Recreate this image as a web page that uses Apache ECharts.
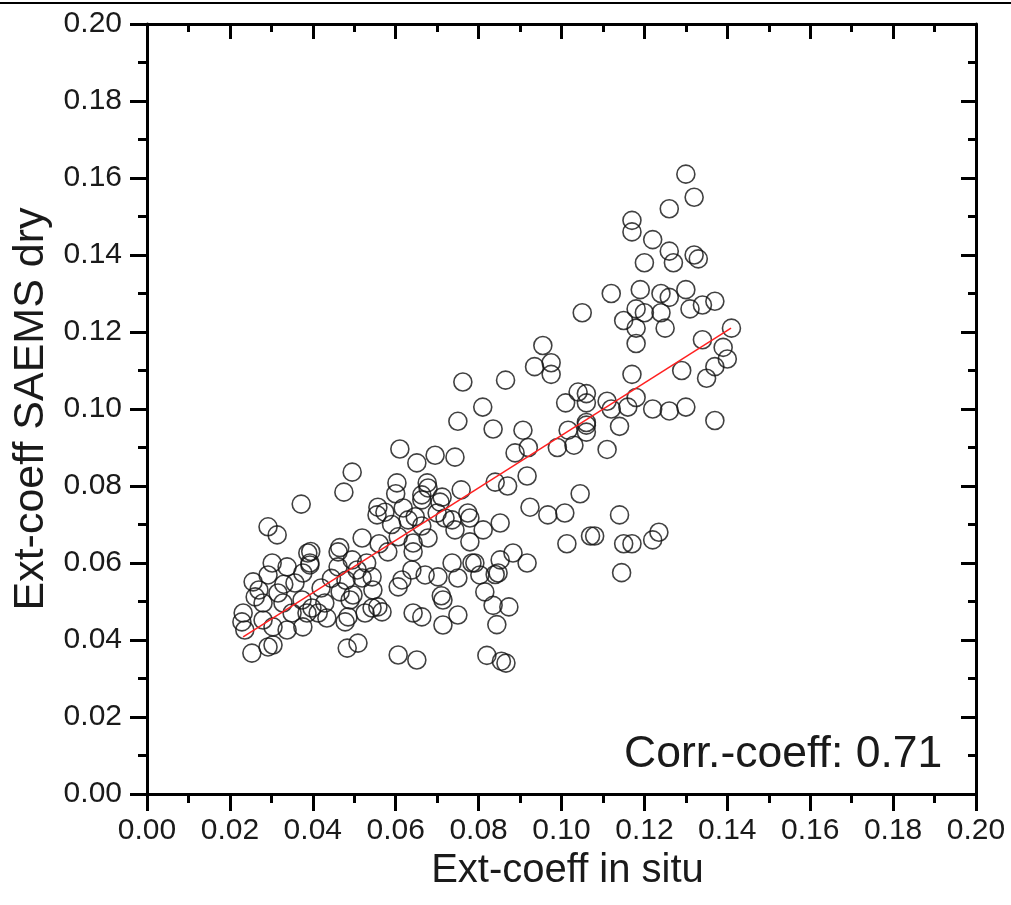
<!DOCTYPE html>
<html>
<head>
<meta charset="utf-8">
<script src="https://cdn.jsdelivr.net/npm/echarts@6/dist/echarts.min.js"></script>
<style>
html,body{margin:0;padding:0;background:#fff;}
#c{width:1011px;height:905px;}
</style>
</head>
<body>
<div id="c"></div>
<script>
// Ext-coeff in situ (x) vs Ext-coeff SAEMS dry (y)
var pointsX = [
0.130,0.132,0.126,0.117,0.117,0.122,0.126,0.127,0.132,0.133,0.120,0.112,0.119,0.124,0.126,0.130,0.137,0.134,0.131,0.118,
0.120,0.124,0.115,0.118,0.125,0.105,0.118,0.141,0.134,0.139,0.140,0.137,0.135,0.129,0.117,0.137,0.106,0.111,0.112,0.116,
0.118,0.122,0.126,0.130,0.106,0.114,0.111,0.1045,0.114,0.107,0.108,0.115,0.117,0.122,0.1235,0.1145,
0.0955,0.0935,0.0975,0.0975,0.0865,0.0762,0.081,0.075,0.0835,0.0907,0.0888,0.092,0.101,0.104,0.106,0.1016,0.106,0.106,
0.099,0.103,0.084,0.087,0.0917,0.0924,0.0967,0.1008,0.0852,0.1013,0.0883,0.0852,0.0917,0.084,0.0815,0.0835,0.0873,0.0844,
0.082,0.0866,0.0855,0.061,0.0651,0.0695,0.0743,0.0495,0.0475,0.0372,0.0292,0.0314,0.0603,0.0676,0.0678,0.0758,0.0557,
0.0555,0.0574,0.0618,0.0663,0.0647,0.0707,0.063,0.0719,0.0736,0.0774,0.0779,0.0519,0.0461,0.0388,0.0393,0.0495,0.0461,
0.0507,0.0581,0.0606,0.0642,0.0642,0.0663,0.0678,0.0743,0.0779,0.0543,0.0545,0.0466,0.0429,0.0398,0.0316,0.0292,0.0256,
0.0261,0.0302,0.0357,0.0338,0.0393,0.0376,0.0328,0.035,0.0374,0.0386,0.028,0.028,0.0232,0.0229,0.0236,0.0304,0.0338,
0.0376,0.0413,0.0434,0.0478,0.0485,0.0526,0.0543,0.0253,0.0292,0.0304,0.0483,0.0509,0.0606,0.0651,0.0519,0.0557,0.0567,
0.049,0.0497,0.0606,0.0615,0.0639,0.0671,0.0702,0.0642,0.0714,0.0710,0.075,0.0714,0.0663,0.0736,0.075,0.0791,0.0712,
0.070,0.0811,0.0784,0.0803,0.0847,0.0663,0.0445,0.0420,0.0530,0.0560,0.0590,0.0600,0.0395,0.0465,0.0480,0.0330,0.0270
];
var pointsY = [
0.161,0.155,0.152,0.149,0.146,0.144,0.141,0.138,0.140,0.139,0.138,0.130,0.131,0.130,0.129,0.131,0.128,0.127,0.126,0.126,
0.125,0.125,0.123,0.121,0.121,0.125,0.117,0.121,0.118,0.116,0.113,0.111,0.108,0.110,0.109,0.097,0.104,0.102,0.100,0.1005,
0.103,0.100,0.0995,0.1005,0.0965,0.0955,0.0895,0.078,0.0725,0.067,0.067,0.065,0.065,0.066,0.068,0.0575,
0.1165,0.111,0.112,0.109,0.1075,0.107,0.1005,0.0968,0.0948,0.0945,0.0886,0.090,0.1016,0.1044,0.1016,0.0945,0.0958,0.094,
0.090,0.0906,0.081,0.080,0.0826,0.0745,0.0725,0.073,0.0704,0.065,0.0626,0.0608,0.060,0.057,0.0525,0.049,0.0486,0.044,
0.036,0.034,0.0345,0.0896,0.086,0.088,0.0875,0.0836,0.0784,0.0753,0.0694,0.0673,0.0808,0.0808,0.0795,0.079,0.0745,
0.0725,0.0732,0.0743,0.0764,0.072,0.0758,0.0712,0.0717,0.0712,0.073,0.0717,0.0665,0.0629,0.0626,0.0595,0.0608,0.059,
0.0582,0.0629,0.0668,0.0652,0.0629,0.0696,0.0665,0.0686,0.0655,0.0564,0.053,0.0525,0.0496,0.0483,0.0522,0.0569,0.0551,
0.0512,0.060,0.0548,0.059,0.060,0.0574,0.0496,0.047,0.0504,0.047,0.0496,0.0452,0.047,0.0447,0.0426,0.0434,0.0426,
0.0434,0.047,0.0457,0.0447,0.046,0.047,0.0483,0.0366,0.0382,0.0387,0.0379,0.0392,0.0361,0.0348,0.0561,0.0486,0.0473,
0.0504,0.0517,0.0538,0.0556,0.0582,0.0569,0.0564,0.047,0.0504,0.0515,0.0465,0.0439,0.046,0.060,0.0561,0.060,0.0771,
0.073,0.0686,0.060,0.0569,0.0574,0.0777,0.056,0.0535,0.060,0.065,0.070,0.078,0.063,0.064,0.0555,0.0545,0.053
];
// linear fit line endpoints
var fitX = [0.0232, 0.1409];
var fitY = [0.0408, 0.1210];
var ticksX = ['0.00','0.02','0.04','0.06','0.08','0.10','0.12','0.14','0.16','0.18','0.20'];
var xName = 'Ext-coeff in situ';
var yName = 'Ext-coeff SAEMS dry';
var corrText = 'Corr.-coeff: 0.71';

var FONT = "'Liberation Sans', Arial, sans-serif";
var TXT = '#1a1a1a';

var scatterData = pointsX.map(function(x, i){ return [x, pointsY[i]]; });
var fitData = fitX.map(function(x, i){ return [x, fitY[i]]; });

function fmt(v){ return v.toFixed(2); }

function baseAxis(extra){
  var a = {
    type: 'value', min: 0, max: 0.2, interval: 0.02,
    splitLine: {show: false},
    axisLine: {show: true, onZero: false, lineStyle: {color: '#000', width: 3}},
    axisTick: {show: true, inside: false, length: 17, lineStyle: {color: '#000', width: 3}},
    minorTick: {show: true, splitNumber: 2, length: 9, lineStyle: {color: '#000', width: 3}},
    minorSplitLine: {show: false},
    axisLabel: {show: true, formatter: fmt, fontFamily: FONT, fontSize: 30, color: TXT}
  };
  for (var k in extra) a[k] = extra[k];
  return a;
}

var chart = echarts.init(document.getElementById('c'), null, {renderer: 'canvas'});
chart.setOption({
  animation: false,
  backgroundColor: '#fff',
  grid: {left: 147, right: 35, top: 24, bottom: 111, containLabel: false},
  xAxis: [
    baseAxis({position: 'bottom', name: xName, nameLocation: 'middle', nameGap: 43,
      nameTextStyle: {fontFamily: FONT, fontSize: 40, color: TXT, padding: [0, 0, 0, 12]},
      axisLabel: {show: true, margin: 22, fontFamily: FONT, fontSize: 30, color: TXT,
        formatter: function(v){ return ticksX[Math.round(v/0.02)]; }}}),
    baseAxis({position: 'top', axisLabel: {show: false},
      axisTick: {show: true, inside: true, length: 15, lineStyle: {color: '#000', width: 3}},
      minorTick: {show: true, splitNumber: 2, length: 8, lineStyle: {color: '#000', width: 3}}})
  ],
  yAxis: [
    baseAxis({position: 'left', name: yName, nameLocation: 'middle', nameGap: 90,
      nameTextStyle: {fontFamily: FONT, fontSize: 43, color: TXT},
      axisLabel: {show: true, margin: 25, fontFamily: FONT, fontSize: 30, color: TXT, formatter: fmt}}),
    baseAxis({position: 'right', axisLabel: {show: false},
      axisTick: {show: true, inside: true, length: 15, lineStyle: {color: '#000', width: 3}},
      minorTick: {show: true, splitNumber: 2, length: 8, lineStyle: {color: '#000', width: 3}}})
  ],
  series: [
    {type: 'scatter', xAxisIndex: 0, yAxisIndex: 0, data: scatterData,
      symbol: 'circle', symbolSize: 18,
      itemStyle: {color: 'rgba(0,0,0,0)', borderColor: '#111', borderWidth: 1.6},
      emphasis: {disabled: true}, z: 2},
    {type: 'line', xAxisIndex: 0, yAxisIndex: 0, data: fitData, symbol: 'none',
      lineStyle: {color: '#ff2020', width: 1.5}, z: 3, silent: true}
  ],
  graphic: [
    {type: 'line', shape: {x1: 0, y1: 3, x2: 1011, y2: 3}, style: {stroke: '#000', lineWidth: 2}, silent: true},
    {type: 'text', left: 624, top: 732, style: {text: corrText, font: "44.5px 'Liberation Sans', Arial, sans-serif", fill: TXT}, silent: true}
  ]
});
</script>
</body>
</html>
